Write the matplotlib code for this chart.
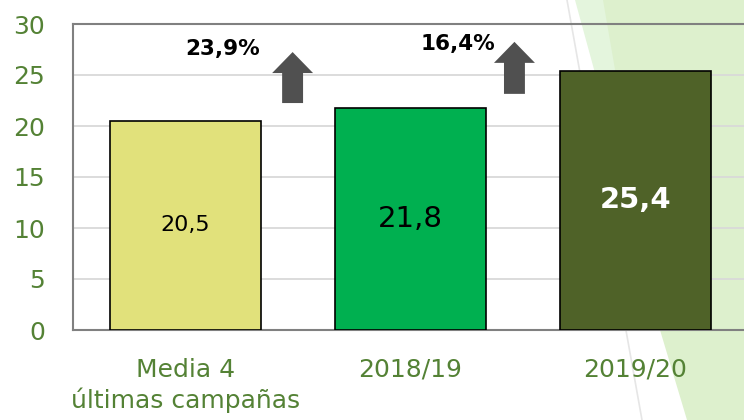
import matplotlib
matplotlib.use("Agg")
import matplotlib.pyplot as plt
from matplotlib.patches import Polygon, FancyArrow
from matplotlib.lines import Line2D

# data
categories = ["Media 4\núltimas campañas", "2018/19", "2019/20"]
values = [20.5, 21.8, 25.4]
value_labels = ["20,5", "21,8", "25,4"]
bar_colors = ["#E1E17B", "#00B050", "#4F6228"]
label_colors = ["black", "black", "white"]
label_sizes = [16, 21, 21]
label_weights = ["normal", "normal", "bold"]

# growth notes (text position, arrow x, arrow bottom, arrow top)
growth_labels = ["23,9%", "16,4%"]
growth_text_xy = [(0.164, 27.5), (1.211, 28.0)]
arrow_x = [0.476, 1.462]
arrow_bottom = [22.25, 23.15]
arrow_top = [27.25, 28.25]

green_text = "#548235"

fig = plt.figure(figsize=(7.44, 4.2), dpi=100)
fig.patch.set_facecolor("white")

# background decoration on the right (figure pixel coords / size)
W, H = 744.0, 420.0
def fpts(pts):
    return [(x / W, 1 - y / H) for x, y in pts]

pale = Polygon(fpts([(575, 0), (744, 0), (744, 420), (690, 420)]),
               closed=True, transform=fig.transFigure, facecolor="#E4F5DD",
               edgecolor="none", zorder=0)
green = Polygon(fpts([(603, 0), (744, 0), (744, 420), (687, 420), (660, 330)]),
                closed=True, transform=fig.transFigure, facecolor="#DDF0CD",
                edgecolor="none", zorder=0)
fig.add_artist(pale)
fig.add_artist(green)
fig.add_artist(Line2D([567 / W, 642 / W], [1, 0], transform=fig.transFigure,
                      color="#E6E6E6", lw=1.2, zorder=0))

ax = fig.add_axes([73 / W, 90 / H, 675 / W, 306 / H])
ax.set_facecolor("none")
ax.set_zorder(1)

x = list(range(len(values)))
ax.bar(x, values, width=0.667, color=bar_colors, edgecolor="black",
       linewidth=1.2, zorder=3)

for i, v in enumerate(values):
    ax.text(i, v / 2, value_labels[i], ha="center", va="center",
            fontsize=label_sizes[i], color=label_colors[i],
            fontweight=label_weights[i], zorder=4)

for i, lab in enumerate(growth_labels):
    ax.text(growth_text_xy[i][0], growth_text_xy[i][1], lab, ha="center",
            va="center", fontsize=15.5, fontweight="bold", color="black", zorder=4)
    arr = FancyArrow(arrow_x[i], arrow_bottom[i], 0, arrow_top[i] - arrow_bottom[i],
                     width=0.093, head_width=0.182, head_length=2.06,
                     length_includes_head=True, color="#505050", lw=0, zorder=4)
    ax.add_patch(arr)

ax.set_xlim(-0.5, 2.5)
ax.set_ylim(0, 30)
ax.set_yticks([0, 5, 10, 15, 20, 25, 30])
ax.set_xticks(x)
ax.set_xticklabels(categories, linespacing=1.3)
ax.yaxis.grid(True, color="#D9D9D9", lw=1.3, zorder=1)
ax.set_axisbelow(True)

ax.tick_params(axis="y", length=0, pad=20, labelsize=18, labelcolor=green_text)
ax.tick_params(axis="x", length=0, pad=20, labelsize=18, labelcolor=green_text)

for s in ["left", "bottom", "top"]:
    ax.spines[s].set_color("#808080")
    ax.spines[s].set_linewidth(1.5)
ax.spines["right"].set_visible(False)

fig.savefig("out.png", dpi=100)
